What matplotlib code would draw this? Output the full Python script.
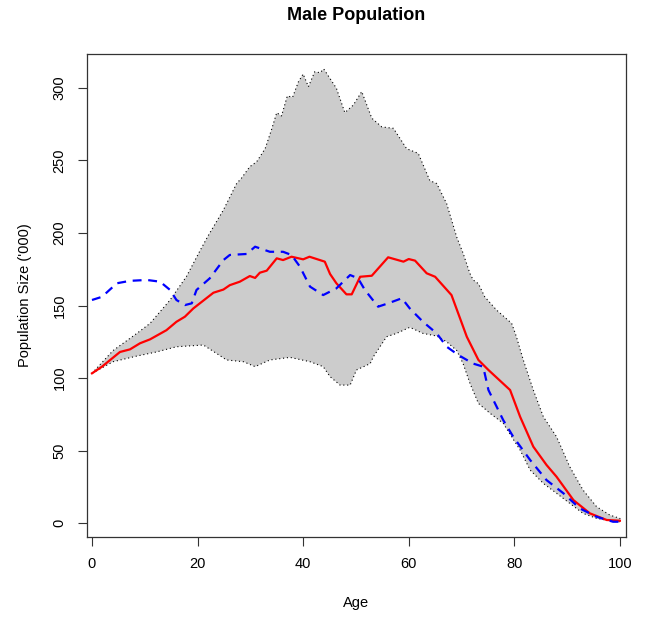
import numpy as np
import matplotlib
matplotlib.use("Agg")
import matplotlib.pyplot as plt

plt.rcParams['font.family'] = ['Liberation Sans', 'DejaVu Sans']

# Upper bound of the interval
upper_age = [0, 4.0, 8.5, 11.0, 14.8, 17.9, 20.5, 22.0, 24.9, 27.4, 28.3, 29.9, 31.2, 32.8, 34.0,
             35.0, 35.9, 37.0, 38.0, 39.1, 40.0, 41.0, 42.2, 43.2, 43.9, 46.3, 47.9, 49.5, 51.1,
             53.0, 54.9, 57.1, 59.6, 61.8, 64.0, 65.3, 67.2, 69.1, 70.3, 71.6, 72.2, 73.2, 74.4,
             76.6, 79.5, 80.4, 81.7, 83.6, 85.5, 88.0, 90.5, 93.0, 95.6, 98.1, 100]
upper_val = [103.3, 119, 130.8, 137.7, 153.8, 170, 188, 198, 215.8, 234, 237.6, 245.6, 249, 258, 271,
             282.8, 280.5, 294.3, 293.4, 304, 309.4, 300.7, 311, 310.3, 312.9, 299.6, 282.8, 288, 297.3,
             279, 273, 272, 258, 254.8, 236, 234, 220, 197, 186, 172, 167.6, 165, 156,
             147, 137.7, 128.5, 112.5, 91.8, 73.4, 59.6, 39, 23, 11.4, 5.7, 3.4]

# Lower bound of the interval
lower_age = [0, 4.0, 8.5, 12.2, 16.0, 21.1, 23.6, 25.5, 28.7, 30.9, 33.7, 37.5, 41.3, 43.8, 45.1,
             47.0, 48.9, 50.1, 52.7, 53.3, 55.8, 57.7, 60.2, 62.7, 65.3, 67.2, 69.1, 70.3, 71.6,
             73.2, 75.4, 77.9, 79.5, 81.1, 83.0, 85.5, 88.0, 90.5, 93.0, 95.6, 98.1, 100]
lower_val = [103.3, 111.3, 115.2, 118, 121.6, 122.8, 117, 112.5, 111.3, 107.9, 112.5, 114.3, 111.3, 107.9, 101,
             95.2, 95.2, 105.6, 110, 114.7, 128.5, 130.8, 135, 130.8, 129, 125, 119, 110, 96.4,
             82.6, 75.8, 68.9, 59.6, 50.5, 36.7, 27.5, 20.7, 13.8, 6.9, 3.4, 1.8, 1.1]

# Red solid line
red_age = [0, 1.9, 5.3, 7.2, 9.1, 11.0, 14.1, 16.0, 17.6, 19.2, 23.0, 24.9, 26.1, 28.0, 29.9, 30.9,
           31.8, 33.1, 35.0, 36.2, 37.8, 40.0, 41.2, 44.1, 45.1, 46.3, 48.2, 49.2, 50.8, 53.0, 56.1,
           59.0, 60.0, 61.2, 63.4, 65.0, 68.1, 71.0, 73.2, 75.1, 79.2, 81.1, 83.6, 86.1, 88.0, 91.2,
           94.3, 97.5, 100]
red_val = [103.3, 107.9, 118, 119.8, 124, 126.7, 133, 138.8, 142.3, 148, 158.8, 161, 164, 166.4, 170.3, 169,
           172.6, 174, 182.5, 181.3, 183.6, 181.8, 183.6, 180.2, 171.7, 165.3, 157.7, 157.7, 169.8, 170.5, 183.2,
           180.2, 182, 180.9, 172.2, 169.8, 157.2, 128.5, 112.5, 105.6, 91.8, 73.4, 52.8, 40.2, 32.1, 16.0,
           6.9, 2.3, 1.8]

# Blue dashed line
blue_age = [0, 1.9, 4.7, 7.2, 10.4, 12.9, 14.8, 16.0, 17.6, 18.9, 19.8, 22.3, 24.9, 26.1, 29.3, 30.9,
            33.7, 36.2, 37.8, 39.4, 41.3, 43.8, 46.3, 48.9, 50.4, 51.7, 54.2, 56.1, 58.7, 60.2, 62.7,
            65.3, 67.2, 69.4, 72.2, 74.1, 75.1, 77.9, 79.8, 83.0, 86.1, 89.3, 92.4, 95.6, 98.7, 100]
blue_val = [153.8, 156, 165.3, 167, 167.6, 166.4, 160.7, 153.8, 150.3, 151.5, 160.7, 168.7, 181.3, 184.8, 185.5, 190.5,
            187, 187, 184.8, 176.7, 163, 157.2, 161.8, 171, 168.7, 160.7, 149.2, 151.5, 155, 148, 138.8,
            130.8, 121.6, 115.9, 110, 107.9, 91.8, 71.1, 59.6, 43.6, 29.8, 20.7, 10.3, 4.5, 1.1, 1.1]

x_ticks = [0, 20, 40, 60, 80, 100]
y_ticks = [0, 50, 100, 150, 200, 250, 300]

fig = plt.figure(figsize=(6.46, 6.17), dpi=100)
ax = fig.add_axes([86.7 / 646, 1 - 536.7 / 617, (625.7 - 86.7) / 646, (536.7 - 54) / 617])

poly_x = np.concatenate([upper_age, lower_age[::-1]])
poly_y = np.concatenate([upper_val, lower_val[::-1]])
ax.fill(poly_x, poly_y, facecolor='#CCCCCC', edgecolor='black', linewidth=0.8,
        linestyle=(0, (1, 2.5)), zorder=1)

ax.plot(red_age, red_val, color='red', linewidth=1.6, zorder=3)
ax.plot(blue_age, blue_val, color='blue', linewidth=1.6, dashes=(4, 3), zorder=3)

ax.set_xlim(-1.0, 101.1)
ax.set_ylim(-9.2, 323.2)
ax.set_xticks(x_ticks)
ax.set_yticks(y_ticks)
ax.tick_params(axis='both', length=6.5, width=0.8, color='#333333', labelsize=10.5)
ax.tick_params(axis='x', pad=8)
ax.tick_params(axis='y', pad=8)
for lab in ax.get_yticklabels():
    lab.set_rotation(90)
    lab.set_va('center')
for s in ax.spines.values():
    s.set_linewidth(0.9)
    s.set_color('#333333')

ax.set_xlabel('Age', fontsize=10.5, labelpad=18)
ax.set_ylabel("Population Size ('000)", fontsize=10.5, labelpad=15)
fig.text(356 / 646, 1 - 16 / 617, 'Male Population', ha='center', va='center',
         fontsize=13, fontweight='bold')

fig.savefig('out.png', dpi=100)
